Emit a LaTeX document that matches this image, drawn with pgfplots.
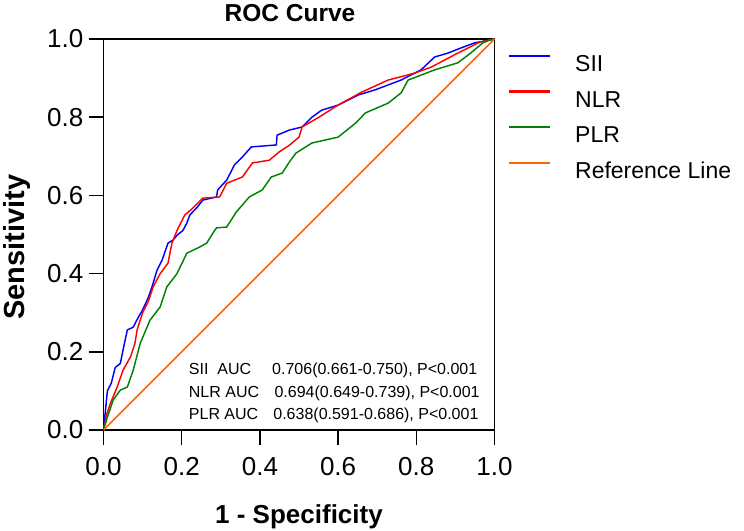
\documentclass[border=0pt]{standalone}
\usepackage{pgfplots}
\pgfplotsset{compat=1.18}
\usepackage{fontspec}
\setmainfont{Liberation Sans}
\definecolor{siicol}{RGB}{0,0,255}
\definecolor{nlrcol}{RGB}{255,0,0}
\definecolor{plrcol}{RGB}{0,128,0}
\definecolor{refcol}{RGB}{255,102,0}
\begin{document}
\begin{tikzpicture}
\useasboundingbox (0,0) rectangle (744pt,530pt);
\begin{axis}[
  at={(103.5pt,100pt)}, anchor=south west,
  scale only axis, width=391pt, height=391pt,
  xmin=0, xmax=1, ymin=0, ymax=1,
  xtick={0,0.2,0.4,0.6,0.8,1}, ytick={0,0.2,0.4,0.6,0.8,1},
  tick pos=left, tick align=outside, major tick length=15pt,
  tick style={line width=1.5pt, black},
  axis line style={line width=1.6pt},
  clip mode=individual,
  /pgf/number format/assume math mode=true,
  /pgf/number format/.cd, fixed, precision=1, fixed zerofill, /pgfplots/.cd,
  ticklabel style={font=\fontsize{26}{26}\selectfont, inner sep=0pt},
  yticklabel style={xshift=-5pt},
  xticklabel style={yshift=-12pt},
  xlabel={\textbf{1 - Specificity}},
  xlabel style={font=\fontsize{26}{28}\selectfont, at={(axis description cs:0.5,-0.238)}, anchor=base, inner sep=0pt},
  ylabel={\textbf{Sensitivity}},
  ylabel style={font=\fontsize{29}{30}\selectfont, at={(axis description cs:-0.203,0.467)}, anchor=base, inner sep=0pt},
  legend style={at={(axis description cs:1.037,0.96)}, anchor=north west, draw=none, fill=none,
    inner sep=0pt, row sep=19pt, font=\fontsize{23}{23}\selectfont,
    nodes={inner sep=0pt, text height=16pt, text depth=0pt}},
  legend cell align=left,
  legend image code/.code={\fill[#1, draw=none] (0pt,6.5pt) rectangle (41pt,8.6pt);},
  /tikz/every odd column/.append style={column sep=25pt},
]
\addplot[siicol, line width=1.45pt] coordinates {
(0,0)(0.005,0.05)(0.01,0.1)(0.02,0.12)(0.03,0.16)(0.043,0.17)(0.05,0.205)(0.061,0.256)(0.076,0.263)(0.09,0.29)(0.10,0.307)(0.115,0.34)(0.124,0.366)(0.137,0.409)(0.15,0.435)(0.165,0.478)(0.178,0.486)(0.19,0.50)(0.203,0.51)(0.213,0.529)(0.221,0.55)(0.24,0.57)(0.254,0.588)(0.289,0.596)(0.292,0.614)(0.315,0.639)(0.335,0.678)(0.355,0.698)(0.378,0.724)(0.442,0.729)(0.444,0.754)(0.475,0.767)(0.508,0.775)(0.533,0.8)(0.558,0.818)(0.6,0.831)(0.652,0.857)(0.695,0.87)(0.761,0.895)(0.812,0.921)(0.847,0.954)(0.881,0.964)(0.914,0.977)(0.949,0.99)(0.985,0.997)(1,1)
};
\addlegendentry{SII}
\addplot[nlrcol, line width=1.45pt] coordinates {
(0,0)(0.008,0.04)(0.018,0.069)(0.035,0.11)(0.05,0.153)(0.069,0.187)(0.08,0.22)(0.086,0.256)(0.10,0.30)(0.115,0.33)(0.127,0.366)(0.145,0.40)(0.165,0.427)(0.175,0.478)(0.188,0.51)(0.208,0.55)(0.228,0.567)(0.254,0.593)(0.297,0.596)(0.315,0.631)(0.355,0.647)(0.381,0.683)(0.424,0.69)(0.449,0.711)(0.475,0.728)(0.5,0.749)(0.508,0.775)(0.551,0.80)(0.6,0.831)(0.66,0.864)(0.728,0.895)(0.797,0.913)(0.838,0.928)(0.906,0.964)(0.962,0.992)(1,1)
};
\addlegendentry{NLR}
\addplot[plrcol, line width=1.45pt] coordinates {
(0,0)(0.01,0.033)(0.025,0.077)(0.043,0.102)(0.061,0.11)(0.076,0.153)(0.094,0.222)(0.119,0.281)(0.145,0.315)(0.162,0.366)(0.188,0.40)(0.213,0.452)(0.246,0.468)(0.264,0.478)(0.284,0.51)(0.289,0.517)(0.315,0.519)(0.34,0.558)(0.373,0.596)(0.406,0.614)(0.429,0.647)(0.457,0.657)(0.475,0.685)(0.492,0.708)(0.533,0.734)(0.6,0.749)(0.645,0.785)(0.67,0.811)(0.728,0.836)(0.761,0.862)(0.779,0.895)(0.847,0.921)(0.906,0.939)(0.939,0.964)(0.97,0.99)(0.987,0.997)(1,1)
};
\addlegendentry{PLR}
\addplot[refcol, line width=1.45pt] coordinates {(0,0)(1,1)};
\addlegendentry{Reference Line}
\node[anchor=base, font=\fontsize{24.5}{26}\selectfont, inner sep=0pt] at (axis description cs:0.477,1.046) {\textbf{ROC Curve}};
\node[anchor=base west, font=\fontsize{16}{16}\selectfont, inner sep=0pt] at (axis cs:0.218,0.141) {SII\ \ AUC};
\node[anchor=base west, font=\fontsize{16}{16}\selectfont, inner sep=0pt] at (axis cs:0.431,0.141) {0.706(0.661-0.750), P<0.001};
\node[anchor=base west, font=\fontsize{16}{16}\selectfont, inner sep=0pt] at (axis cs:0.218,0.082) {NLR AUC};
\node[anchor=base west, font=\fontsize{16}{16}\selectfont, inner sep=0pt] at (axis cs:0.437,0.082) {0.694(0.649-0.739), P<0.001};
\node[anchor=base west, font=\fontsize{16}{16}\selectfont, inner sep=0pt] at (axis cs:0.218,0.026) {PLR AUC};
\node[anchor=base west, font=\fontsize{16}{16}\selectfont, inner sep=0pt] at (axis cs:0.434,0.026) {0.638(0.591-0.686), P<0.001};
\end{axis}
\end{tikzpicture}
\end{document}
